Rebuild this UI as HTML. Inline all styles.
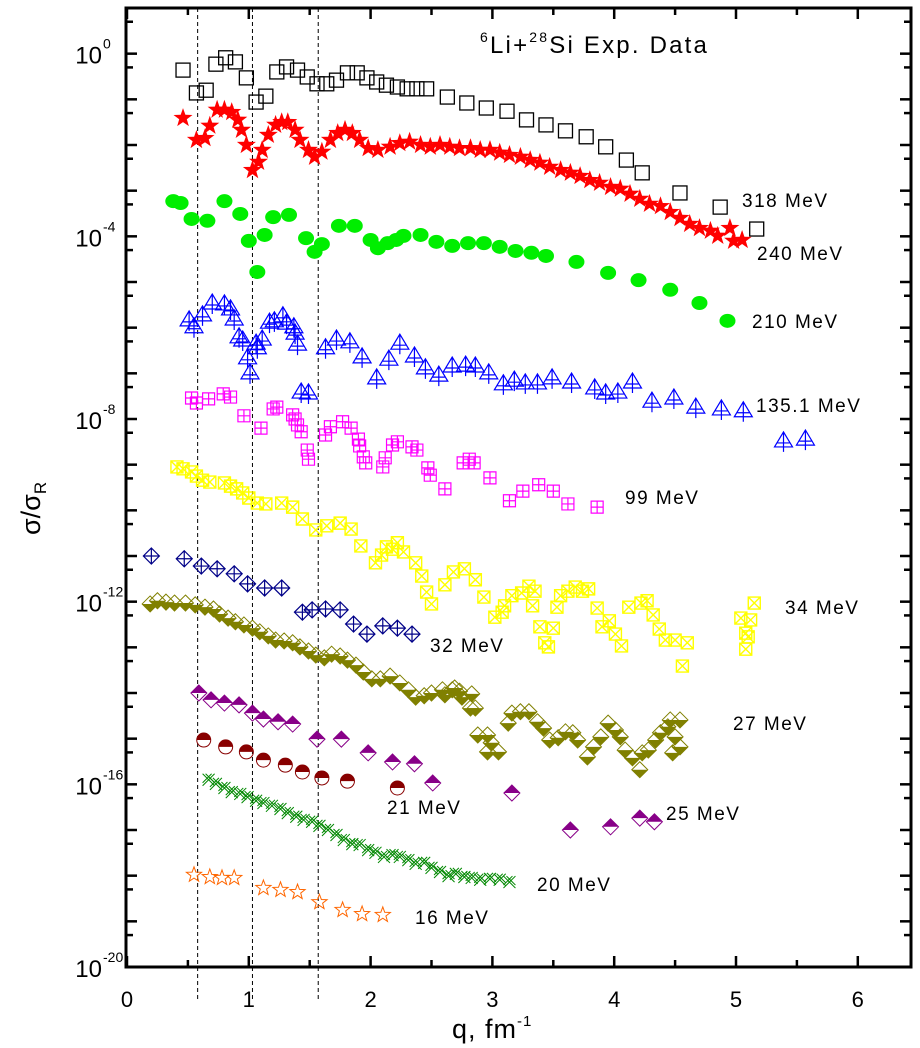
<!DOCTYPE html>
<html><head><meta charset="utf-8"><title>6Li+28Si cross sections</title>
<style>
html,body{margin:0;padding:0;background:#fff;}
svg{display:block;font-family:"Liberation Sans",Arial,sans-serif;}
</style></head>
<body>
<svg id="chart" width="920" height="1048" viewBox="0 0 920 1048" xmlns="http://www.w3.org/2000/svg"></svg>
<script>
// ---- data (q in fm^-1, log10 of sigma/sigmaR) ----
const q318=[.46,.57,.65,.73,.81,.89,.98,1.06,1.14,1.23,1.31,1.40,1.48,1.56,1.64,1.72,1.81,1.89,1.97,2.05,2.13,2.22,2.30,2.38,2.46,2.63,2.79,2.95,3.12,3.28,3.44,3.60,3.77,3.93,4.10,4.23,4.54,4.87,5.17];
const L318=[-.36,-.86,-.80,-.23,-.09,-.18,-.53,-1.06,-.93,-.40,-.29,-.36,-.51,-.66,-.66,-.58,-.42,-.42,-.53,-.62,-.69,-.73,-.77,-.77,-.77,-.95,-1.08,-1.19,-1.26,-1.45,-1.56,-1.69,-1.82,-2.04,-2.33,-2.61,-3.05,-3.36,-3.84];
const q240=[.46,.57,.64,.68,.74,.80,.86,.91,.94,.98,1.03,1.08,1.11,1.16,1.22,1.27,1.32,1.38,1.42,1.49,1.54,1.60,1.67,1.73,1.79,1.85,1.91,1.98,2.06,2.16,2.24,2.32,2.41,2.49,2.57,2.65,2.73,2.82,2.90,2.98,3.06,3.14,3.23,3.31,3.39,3.47,3.56,3.64,3.72,3.80,3.88,3.97,4.05,4.13,4.21,4.29,4.38,4.46,4.54,4.62,4.70,4.79,4.85,4.95,4.98,5.05];
const L240=[-1.41,-1.89,-1.85,-1.58,-1.23,-1.23,-1.28,-1.45,-1.67,-2.0,-2.55,-2.37,-2.11,-1.78,-1.56,-1.50,-1.50,-1.67,-1.89,-2.11,-2.26,-2.15,-1.89,-1.74,-1.67,-1.74,-1.89,-2.07,-2.11,-2.04,-1.96,-1.93,-2.0,-2.04,-2.0,-2.04,-2.07,-2.07,-2.11,-2.11,-2.17,-2.22,-2.26,-2.33,-2.39,-2.48,-2.55,-2.61,-2.68,-2.77,-2.83,-2.92,-2.96,-3.07,-3.18,-3.29,-3.34,-3.47,-3.60,-3.73,-3.82,-3.88,-3.99,-3.82,-4.10,-4.08];
const q210=[.38,.44,.53,.66,.80,.93,1.00,1.07,1.13,1.20,1.33,1.47,1.54,1.60,1.74,1.87,2.00,2.06,2.14,2.21,2.27,2.41,2.54,2.67,2.80,2.93,3.06,3.19,3.32,3.44,3.69,3.95,4.20,4.46,4.70,4.93];
const L210=[-3.23,-3.27,-3.62,-3.66,-3.23,-3.51,-4.10,-4.78,-3.97,-3.58,-3.53,-4.04,-4.34,-4.17,-3.77,-3.77,-4.08,-4.26,-4.15,-4.08,-3.99,-3.97,-4.12,-4.21,-4.15,-4.15,-4.23,-4.32,-4.36,-4.43,-4.56,-4.80,-4.96,-5.17,-5.46,-5.85];
const q135=[.51,.55,.62,.70,.80,.85,.88,.92,.95,.99,1.01,1.06,1.11,1.07,1.17,1.21,1.28,1.31,1.37,1.38,1.40,1.43,1.49,1.63,1.72,1.83,1.93,2.05,2.15,2.24,2.36,2.45,2.56,2.67,2.78,2.86,2.97,3.09,3.18,3.27,3.37,3.49,3.65,3.84,3.93,4.03,4.15,4.31,4.49,4.67,4.88,5.06,5.39,5.57];
const L135=[-5.83,-5.98,-5.72,-5.46,-5.48,-5.59,-5.81,-6.20,-6.27,-6.66,-6.99,-6.34,-6.25,-6.44,-5.88,-5.85,-5.74,-5.90,-5.98,-6.12,-6.36,-7.41,-7.43,-6.44,-6.25,-6.31,-6.64,-7.10,-6.69,-6.34,-6.62,-6.88,-7.04,-6.84,-6.82,-6.84,-6.99,-7.23,-7.15,-7.21,-7.21,-7.10,-7.19,-7.32,-7.43,-7.41,-7.19,-7.61,-7.54,-7.74,-7.78,-7.82,-8.48,-8.44];
const q99=[.53,.57,.67,.79,.85,.96,1.10,1.20,1.23,1.36,1.38,1.40,1.43,1.48,1.49,1.63,1.67,1.77,1.84,1.90,1.91,1.94,1.96,2.10,2.12,2.18,2.22,2.34,2.38,2.47,2.49,2.61,2.76,2.81,2.85,2.98,3.14,3.25,3.38,3.50,3.62,3.86];
const L99=[-7.54,-7.65,-7.56,-7.45,-7.52,-7.93,-8.20,-7.78,-7.74,-7.91,-8.00,-8.13,-8.28,-8.68,-8.88,-8.35,-8.17,-8.06,-8.20,-8.44,-8.59,-8.83,-8.96,-9.05,-8.85,-8.57,-8.50,-8.61,-8.68,-9.07,-9.23,-9.53,-8.96,-8.88,-8.96,-9.29,-9.79,-9.58,-9.44,-9.58,-9.86,-9.93];
const q34=[.41,.46,.53,.57,.62,.68,.80,.85,.90,.95,1.00,1.07,1.14,1.27,1.36,1.44,1.55,1.64,1.75,1.84,1.92,2.04,2.09,2.13,2.18,2.22,2.27,2.37,2.42,2.46,2.50,2.61,2.68,2.77,2.86,2.93,3.02,3.08,3.10,3.16,3.24,3.30,3.35,3.33,3.39,3.50,3.43,3.46,3.53,3.56,3.62,3.68,3.74,3.79,3.86,3.90,3.96,4.01,4.06,4.12,4.22,4.27,4.32,4.37,4.42,4.50,4.60,4.56,5.04,5.08,5.10,5.12,5.08,5.15];
const L34=[-9.05,-9.09,-9.16,-9.25,-9.34,-9.38,-9.40,-9.47,-9.53,-9.62,-9.73,-9.84,-9.86,-9.84,-9.93,-10.19,-10.43,-10.34,-10.28,-10.41,-10.78,-11.15,-10.98,-10.80,-10.85,-10.71,-10.91,-11.15,-11.44,-11.79,-12.05,-11.63,-11.35,-11.28,-11.52,-11.90,-12.34,-12.23,-12.09,-11.87,-11.81,-11.66,-11.77,-12.09,-12.55,-12.58,-12.90,-12.99,-12.12,-11.87,-11.77,-11.68,-11.77,-11.72,-12.14,-12.55,-12.42,-12.71,-12.97,-12.12,-12.03,-11.98,-12.29,-12.60,-12.84,-12.84,-12.90,-13.41,-12.36,-12.69,-12.77,-12.40,-13.04,-12.03];
const q32=[.20,.47,.61,.74,.88,.99,1.13,1.27,1.44,1.52,1.63,1.75,1.86,1.97,2.10,2.22,2.34];
const L32=[-11.00,-11.06,-11.22,-11.28,-11.39,-11.61,-11.70,-11.70,-12.23,-12.18,-12.16,-12.18,-12.49,-12.71,-12.53,-12.58,-12.71];
const q27=[.19,.25,.32,.39,.48,.56,.64,.71,.76,.83,.89,.96,1.03,1.09,1.16,1.22,1.29,1.36,1.42,1.49,1.55,1.62,1.68,1.75,1.81,1.88,1.94,2.01,2.08,2.16,2.24,2.31,2.37,2.44,2.50,2.59,2.67,2.75,2.82,2.88,2.96,2.61,2.69,2.73,2.83,2.86,2.96,2.99,3.05,3.13,3.16,3.23,3.30,3.37,3.42,3.47,3.54,3.60,3.66,3.70,3.78,3.83,3.89,3.95,4.01,4.05,4.09,4.15,4.21,4.23,4.28,4.34,4.38,4.44,4.46,4.50,4.54,4.54,4.48];
const L27=[-12.05,-11.98,-12.01,-12.03,-12.03,-12.07,-12.12,-12.16,-12.27,-12.36,-12.44,-12.51,-12.58,-12.66,-12.75,-12.84,-12.86,-12.90,-12.99,-13.08,-13.17,-13.23,-13.15,-13.19,-13.28,-13.39,-13.54,-13.69,-13.69,-13.63,-13.78,-13.93,-14.09,-14.06,-14.00,-13.93,-13.93,-14.09,-14.33,-14.92,-15.29,-14.04,-13.89,-13.96,-14.02,-14.33,-14.92,-15.09,-15.29,-14.66,-14.44,-14.41,-14.41,-14.63,-14.77,-15.03,-14.98,-14.85,-14.87,-15.03,-15.40,-15.18,-14.96,-14.66,-14.81,-14.96,-15.25,-15.42,-15.68,-15.31,-15.25,-15.03,-14.87,-14.74,-14.59,-14.96,-14.59,-15.18,-15.31];
const q25=[.59,.69,.80,.92,1.03,1.12,1.24,1.36,1.56,1.76,1.98,2.18,2.36,2.51,3.16,3.64,3.97,4.21,4.33];
const L25=[-14.00,-14.15,-14.22,-14.26,-14.44,-14.57,-14.63,-14.68,-15.01,-15.01,-15.31,-15.51,-15.55,-15.97,-16.19,-17.00,-16.93,-16.74,-16.82];
const q21=[.63,.81,.98,1.12,1.30,1.44,1.60,1.81,2.22];
const L21=[-15.03,-15.18,-15.29,-15.47,-15.58,-15.73,-15.86,-15.93,-16.08];
const q20=[.67,.73,.80,.86,.93,.99,1.06,1.12,1.19,1.26,1.32,1.39,1.45,1.52,1.58,1.65,1.72,1.78,1.85,1.91,1.98,2.04,2.11,2.18,2.24,2.31,2.37,2.44,2.50,2.57,2.64,2.70,2.77,2.83,2.90,2.98,3.06,3.14];
const L20=[-15.90,-15.99,-16.08,-16.17,-16.21,-16.28,-16.36,-16.41,-16.47,-16.54,-16.63,-16.71,-16.78,-16.82,-16.91,-17.00,-17.11,-17.22,-17.31,-17.33,-17.44,-17.50,-17.59,-17.55,-17.59,-17.66,-17.74,-17.72,-17.83,-17.92,-18.01,-17.96,-18.03,-18.05,-18.09,-18.07,-18.09,-18.14];
const q16=[.55,.68,.78,.88,1.12,1.26,1.40,1.58,1.77,1.93,2.10];
const L16=[-17.98,-18.03,-18.05,-18.05,-18.27,-18.31,-18.36,-18.58,-18.75,-18.84,-18.86];
const xTicks=[0,1,2,3,4,5,6];
const yTickExp=[0,-4,-8,-12,-16,-20];
const dashedQ=[0.58,1.03,1.57];

// ---- axes ----
const PL=126,PR=911,PT=8,PB=967;
const X0=127,XS=121.8;
function sx(q){return X0+q*XS;}
function sy(L){return PT+(1-L)*((PB-PT)/21);}

const NS="http://www.w3.org/2000/svg";
const svg=document.getElementById('chart');
function mk(tag,attrs,parent){const e=document.createElementNS(NS,tag);for(const k in attrs)e.setAttribute(k,attrs[k]);(parent||svg).appendChild(e);return e;}

const dg=mk('g',{});


dashedQ.forEach(q=>{const l=mk('line',{x1:sx(q),x2:sx(q),y1:PT,y2:1000,stroke:'#000','stroke-width':1,'stroke-dasharray':'4,3'},dg);

});

const fr=mk('rect',{x:PL,y:PT,width:PR-PL,height:PB-PT,fill:'none',stroke:'#000','stroke-width':3});



const xg=mk('g',{});


for(let i=0;i<=13;i++){const q=i*0.5;const x=sx(q);if(x>PR)break;const len=(i%2==0)?11:7;
 mk('line',{x1:x,x2:x,y1:PB,y2:PB-len,stroke:'#000','stroke-width':2.5},xg);
 mk('line',{x1:x,x2:x,y1:PT,y2:PT+len,stroke:'#000','stroke-width':2.5},xg);}
xTicks.forEach(v=>{const t=mk('text',{x:sx(v),y:1007,'font-size':22,'text-anchor':'middle',fill:'#000'},xg);t.textContent=v;

});
const yg=mk('g',{});


for(let e=1;e>=-20;e--){const y=sy(e);
 mk('line',{x1:PL,x2:PL+11,y1:y,y2:y,stroke:'#000','stroke-width':2.5},yg);
 mk('line',{x1:PR,x2:PR-11,y1:y,y2:y,stroke:'#000','stroke-width':2.5},yg);
 if(e>-20){const y2=sy(e-1+Math.log10(5));
 mk('line',{x1:PL,x2:PL+7,y1:y2,y2:y2,stroke:'#000','stroke-width':2.5},yg);
 mk('line',{x1:PR,x2:PR-7,y1:y2,y2:y2,stroke:'#000','stroke-width':2.5},yg);}}
yTickExp.forEach(e=>{const y=sy(e);const t=mk('text',{x:102,y:y+10,'font-size':24,'text-anchor':'end',fill:'#000'},yg);t.textContent='10';


const s=mk('text',{x:103,y:y-5,'font-size':14,fill:'#000'},yg);s.textContent=String(e);

});

function marker(type,x,y,g){
 switch(type){
 case 'sq': mk('rect',{x:x-7,y:y-7,width:14,height:14,fill:'none',stroke:'#000','stroke-width':1.3},g);break;
 case 'star': mk('path',{d:starPath(x,y,10,4),fill:'#f00'},g);break;
 case 'ostar': mk('path',{d:starPath(x,y,8,3.3),fill:'none',stroke:'#f60','stroke-width':1},g);break;
 case 'circ': mk('ellipse',{cx:x,cy:y,rx:8,ry:7,fill:'#0e0'},g);break;
 case 'tri': mk('path',{d:`M${x},${y-9}L${x+9},${y+6}L${x-9},${y+6}Z M${x},${y-9}V${y+11} M${x-6},${y+2}H${x+6}`,fill:'none',stroke:'#00f','stroke-width':1.2},g);break;
 case 'sqp': mk('path',{d:`M${x-6},${y-6}h12v12h-12Z M${x},${y-6}v12 M${x-6},${y}h12`,fill:'none',stroke:'#f0f','stroke-width':1.2},g);break;
 case 'sqx': mk('path',{d:`M${x-6},${y-6}h12v12h-12Z M${x-6},${y-6}l12,12 M${x+6},${y-6}l-12,12`,fill:'none',stroke:'#ff0','stroke-width':1.4},g);break;
 case 'dp': mk('path',{d:`M${x},${y-8}L${x+8},${y}L${x},${y+8}L${x-8},${y}Z M${x},${y-8}v16 M${x-8},${y}h16`,fill:'none',stroke:'#008','stroke-width':1.2},g);break;
 case 'dhb': mk('path',{d:`M${x-8},${y}L${x+8},${y}L${x},${y+8}Z`,fill:'#808000'},g);mk('path',{d:`M${x},${y-8}L${x+8},${y}L${x},${y+8}L${x-8},${y}Z`,fill:'none',stroke:'#808000','stroke-width':1},g);break;
 case 'dht': mk('path',{d:`M${x-8},${y}L${x+8},${y}L${x},${y-8}Z`,fill:'#808'},g);mk('path',{d:`M${x},${y-8}L${x+8},${y}L${x},${y+8}L${x-8},${y}Z`,fill:'none',stroke:'#808','stroke-width':1},g);break;
 case 'cht': mk('path',{d:`M${x-7},${y}A7,7 0 0 1 ${x+7},${y}Z`,fill:'#800'},g);mk('circle',{cx:x,cy:y,r:7,fill:'none',stroke:'#800','stroke-width':1},g);break;
 case 'xx': mk('path',{d:`M${x-6},${y-6}l12,12 M${x+6},${y-6}l-12,12 M${x-3},${y-6}l9,9 M${x+3},${y-6}l-9,9`,fill:'none',stroke:'#080','stroke-width':1},g);break;
 }
}
function starPath(cx,cy,R,r){let d='';for(let i=0;i<10;i++){const a=-Math.PI/2+i*Math.PI/5;const rr=i%2?r:R;d+=(i?'L':'M')+(cx+rr*Math.cos(a)).toFixed(1)+','+(cy+rr*Math.sin(a)).toFixed(1);}return d+'Z';}

function series(name,qs,Ls,type){const g=mk('g',{});
 
 
 qs.forEach((q,i)=>marker(type,sx(q),sy(Ls[i]),g));}
series('series-318-mev',q318,L318,'sq');
series('series-240-mev',q240,L240,'star');
series('series-210-mev',q210,L210,'circ');
series('series-135-mev',q135,L135,'tri');
series('series-99-mev',q99,L99,'sqp');
series('series-34-mev',q34,L34,'sqx');
series('series-32-mev',q32,L32,'dp');
series('series-27-mev',q27,L27,'dhb');
series('series-25-mev',q25,L25,'dht');
series('series-21-mev',q21,L21,'cht');
series('series-20-mev',q20,L20,'xx');
series('series-16-mev',q16,L16,'ostar');

const labels=[['318 MeV',742,207],['240 MeV',757,260],['210 MeV',752,328],['135.1 MeV',756,412],['99 MeV',625,504],['34 MeV',785,614],['32 MeV',430,652],['27 MeV',733,730],['21 MeV',387,814],['25 MeV',666,820],['20 MeV',537,891],['16 MeV',415,924]];
labels.forEach(l=>{const t=mk('text',{x:l[1],y:l[2],'font-size':19,fill:'#000','letter-spacing':'1.5'});t.textContent=l[0];

});
</script>
<svg style="position:absolute;left:0;top:0" width="920" height="1048">
<text x="480" y="53" font-family="Liberation Sans, sans-serif" font-size="24" letter-spacing="2.2"><tspan font-size="14" dy="-11">6</tspan><tspan dy="11">Li+</tspan><tspan font-size="14" dy="-11">28</tspan><tspan dy="11">Si Exp. Data</tspan></text>
<text x="452" y="1038" font-family="Liberation Sans, sans-serif" font-size="27" letter-spacing="1">q, fm<tspan font-size="15" dy="-12">-1</tspan></text>
<text transform="translate(40,535) rotate(-90)" font-family="Liberation Sans, sans-serif" font-size="27">σ/σ<tspan font-size="17" dy="6">R</tspan></text>
</svg>
</body></html>
